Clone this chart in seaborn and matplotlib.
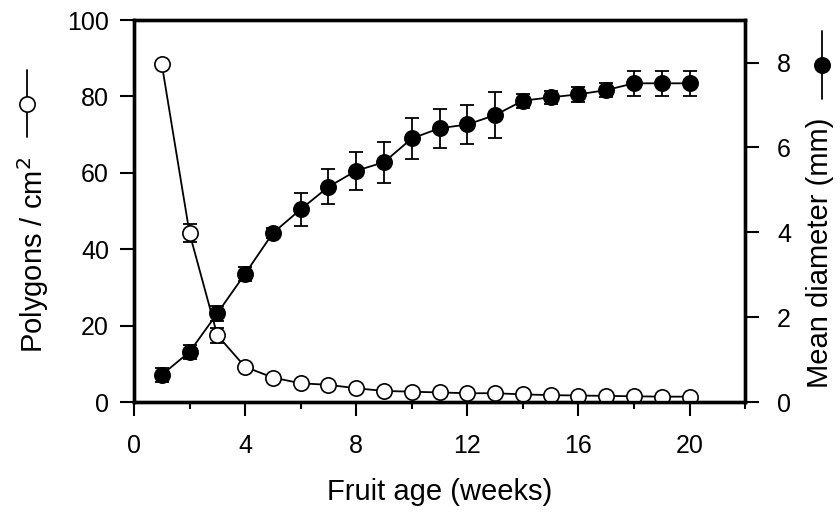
import matplotlib
matplotlib.use("Agg")
import matplotlib.pyplot as plt
import seaborn as sns
import numpy as np
import pandas as pd
from matplotlib.ticker import MultipleLocator
from matplotlib.lines import Line2D

weeks = list(range(1, 21))
polygons = [88.5, 44.2, 17.5, 9.2, 6.4, 4.9, 4.5, 3.6, 2.9, 2.7,
            2.5, 2.3, 2.3, 2.0, 1.8, 1.7, 1.6, 1.5, 1.4, 1.4]
polygons_err = [0.5, 2.4, 2.0, 0.6, 0.5, 0.4, 0.4, 0.4, 0.3, 0.3,
                0.3, 0.3, 0.3, 0.3, 0.3, 0.3, 0.3, 0.3, 0.3, 0.3]
diameter = [0.64, 1.18, 2.09, 3.02, 3.98, 4.54, 5.07, 5.45, 5.65, 6.21,
            6.45, 6.54, 6.76, 7.10, 7.18, 7.25, 7.35, 7.51, 7.51, 7.51]
diameter_err = [0.16, 0.17, 0.17, 0.17, 0.12, 0.39, 0.41, 0.45, 0.48, 0.48,
                0.46, 0.47, 0.55, 0.16, 0.15, 0.17, 0.16, 0.29, 0.29, 0.29]

df = pd.DataFrame({"week": weeks, "polygons": polygons, "pe": polygons_err,
                   "diameter": diameter, "de": diameter_err})

sns.set_style("ticks")
plt.rcParams["font.family"] = ["Liberation Sans", "DejaVu Sans"]
plt.rcParams["text.color"] = "black"
plt.rcParams["axes.labelcolor"] = "black"
plt.rcParams["xtick.color"] = "black"
plt.rcParams["ytick.color"] = "black"

fig = plt.figure(figsize=(8.4, 5.15), dpi=100)
ax = fig.add_axes([0.1595, 0.2194, 0.887 - 0.1595, 0.961 - 0.2194])
ax2 = ax.twinx()

lw_spine = 2.4
for a in (ax, ax2):
    for s in a.spines.values():
        s.set_linewidth(lw_spine)
        s.set_color("black")

lw = 1.3
ms = 11
# open circles (left axis)
ax.errorbar(df["week"], df["polygons"], yerr=df["pe"], fmt="none",
            ecolor="black", elinewidth=lw, capsize=5, capthick=lw, zorder=2)
sns.lineplot(data=df, x="week", y="polygons", ax=ax, color="black", lw=lw,
             marker="o", markersize=ms, markerfacecolor="white",
             markeredgecolor="black", markeredgewidth=1.2, zorder=3)

# filled circles (right axis)
ax2.errorbar(df["week"], df["diameter"], yerr=df["de"], fmt="none",
             ecolor="black", elinewidth=lw, capsize=5, capthick=lw, zorder=2)
sns.lineplot(data=df, x="week", y="diameter", ax=ax2, color="black", lw=lw,
             marker="o", markersize=ms, markerfacecolor="black",
             markeredgecolor="black", markeredgewidth=1.2, zorder=3)

ax.set_xlim(0, 22)
ax.set_ylim(0, 100)
ax2.set_ylim(0, 9)
ax.set_xticks([0, 4, 8, 12, 16, 20])
ax.xaxis.set_minor_locator(MultipleLocator(2))
ax.set_yticks([0, 20, 40, 60, 80, 100])
ax2.set_yticks([0, 2, 4, 6, 8])

ax.tick_params(axis="x", which="major", direction="out", length=10, width=1.5,
               labelsize=18, pad=13)
ax.tick_params(axis="x", which="minor", direction="out", length=5, width=1.5)
ax.tick_params(axis="y", which="major", direction="out", length=10, width=1.5,
               labelsize=18, pad=8)
ax2.tick_params(axis="y", which="major", direction="out", length=10, width=1.5,
                labelsize=18, pad=13)

ax.set_xlabel("Fruit age (weeks)", fontsize=21)
ax.set_ylabel("Polygons / cm$^2$", fontsize=21)
ax2.set_ylabel("Mean diameter (mm)", fontsize=21)
ax.xaxis.set_label_coords(0.5, -0.2)
ax.yaxis.set_label_coords(-0.135, 0.385)
ax2.yaxis.set_label_coords(1.1, 0.39)

# key symbols beside the axis labels
W, H = 840, 515
def key(xpx, y0px, y1px, face):
    x = xpx / W
    fig.add_artist(Line2D([x, x], [1 - y0px / H, 1 - y1px / H], color="black",
                          lw=lw, transform=fig.transFigure))
    fig.add_artist(Line2D([x], [1 - (y0px + y1px) / 2 / H], marker="o",
                          markersize=ms, markerfacecolor=face,
                          markeredgecolor="black", markeredgewidth=1.2,
                          transform=fig.transFigure))
key(27, 70, 137, "white")
key(822, 31, 99, "black")

ax.set_zorder(ax2.get_zorder() - 1)
ax2.patch.set_visible(False)
ax.patch.set_visible(True)

fig.savefig("out.png", dpi=100)
